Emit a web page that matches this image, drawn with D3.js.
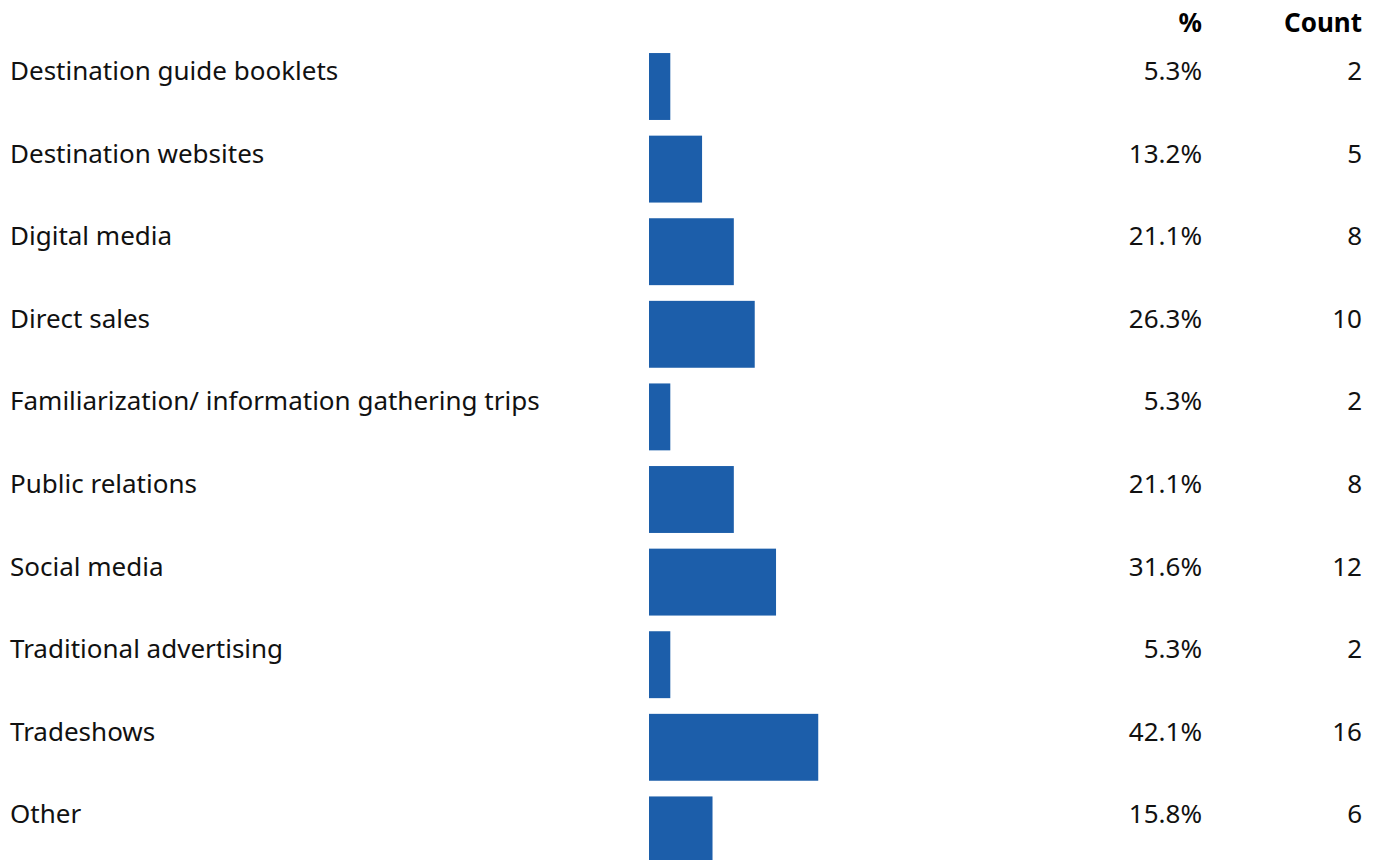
<!DOCTYPE html>
<html><head><meta charset="utf-8">
<script src="https://cdn.jsdelivr.net/npm/d3@7"></script>
<style>html,body{margin:0;padding:0;background:#fff;overflow:hidden}</style>
</head><body>
<svg id="chart" width="1375" height="860"></svg>
<script>
const categories = ["Destination guide booklets","Destination websites","Digital media","Direct sales","Familiarization/ information gathering trips","Public relations","Social media","Traditional advertising","Tradeshows","Other"];
const percents = [5.3,13.2,21.1,26.3,5.3,21.1,31.6,5.3,42.1,15.8];
const counts = [2,5,8,10,2,8,12,2,16,6];
const headers = ["%","Count"];

const svg = d3.select("#chart");
const font = "'Noto Sans', sans-serif";
const y = d3.scaleBand().domain(categories).range([45.2, 45.2 + 82.6*10]).paddingInner(0.19).paddingOuter(0.095);
const x = d3.scaleLinear().domain([0,100]).range([649, 649+402]);

svg.selectAll("rect.bar").data(categories).join("rect")
  .attr("x", x(0)).attr("y", d => y(d))
  .attr("width", (d,i) => x(percents[i]) - x(0))
  .attr("height", y.bandwidth()).attr("fill", "#1c5eaa");

const fs = 26;
svg.selectAll("text.lab").data(categories).join("text")
  .attr("x", 10).attr("y", d => y(d) + 27)
  .attr("font-family", font).attr("font-size", fs).attr("fill", "#111")
  .text(d => d);
svg.selectAll("text.pct").data(categories).join("text")
  .attr("x", 1202).attr("y", d => y(d) + 27).attr("text-anchor","end")
  .attr("font-family", font).attr("font-size", fs).attr("fill", "#111")
  .text((d,i) => percents[i].toFixed(1) + "%");
svg.selectAll("text.cnt").data(categories).join("text")
  .attr("x", 1362).attr("y", d => y(d) + 27).attr("text-anchor","end")
  .attr("font-family", font).attr("font-size", fs).attr("fill", "#111")
  .text((d,i) => counts[i]);
svg.selectAll("text.hdr").data(headers).join("text")
  .attr("x", (d,i) => i ? 1362 : 1202).attr("y", 32).attr("text-anchor","end")
  .attr("font-family", font).attr("font-size", fs).attr("font-weight", "bold").attr("fill", "#000")
  .text(d => d);
</script>
</body></html>
